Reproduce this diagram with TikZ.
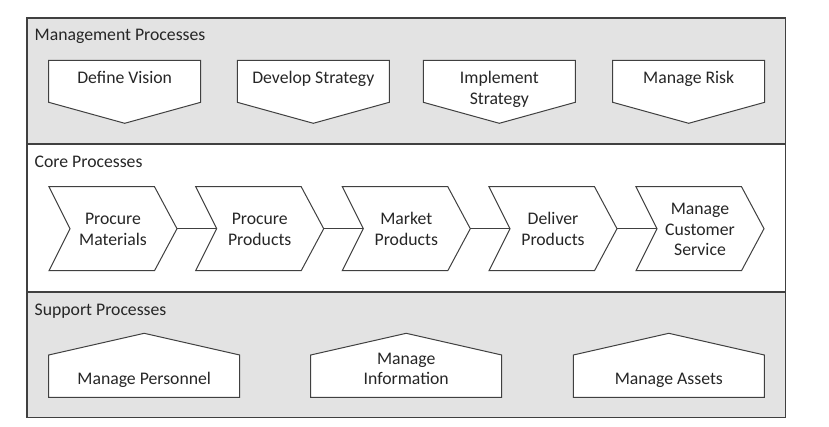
\documentclass[tikz,border=0pt]{standalone}
\usepackage{fontspec}
\setmainfont{Carlito}
\definecolor{bandgray}{HTML}{E3E3E3}
\definecolor{linegray}{HTML}{404040}
\definecolor{txtgray}{HTML}{262626}
\newcommand\lstrut{\rule[-6.5pt]{0pt}{20.5pt}}
\tikzset{
  band/.style={draw=linegray, line width=1.2pt},
  shapebox/.style={draw=linegray, fill=white, line width=1pt, line join=miter},
  lbl/.style={inner sep=0pt, text=txtgray, align=center, font=\fontsize{17.7}{20.5}\selectfont},
  bandlbl/.style={inner sep=0pt, text=txtgray, anchor=base west, font=\fontsize{17.7}{20.5}\selectfont},
  conn/.style={draw=linegray, line width=1pt}
}
\begin{document}
\begin{tikzpicture}[x=1pt,y=-1pt]
\useasboundingbox (0,0) rectangle (829,427);
% bands
\draw[band, fill=bandgray] (27,18) rectangle (785.7,144);
\draw[band, fill=white] (27,144) rectangle (785.7,292);
\draw[band, fill=bandgray] (27,292) rectangle (785.7,417.7);
\node[bandlbl] (mgmt) at (34.5,40.5) {Management Processes};
\node[bandlbl] (core) at (34.5,168) {Core Processes};
\node[bandlbl] (supp) at (34.5,315.5) {Support Processes};
% management shapes
\foreach \x/\n/\t in {48.7/m1/{Define Vision}, 237.3/m2/{Develop Strategy}, 423.3/m3/{Implement\\\lstrut Strategy}, 612.7/m4/{Manage Risk}}{
  \draw[shapebox] (\x,60.3) -- (\x+152,60.3) -- (\x+152,102.3) -- (\x+76,123.3) -- (\x,102.3) -- cycle;
  \node[lbl, anchor=north] (\n) at (\x+76,69.5) {\lstrut\t};
}
% core chevrons
\foreach \x/\n/\t in {49/c1/{Procure\\\lstrut Materials}, 195.7/c2/{Procure\\\lstrut Products}, 342.3/c3/{Market\\\lstrut Products}, 489/c4/{Deliver\\\lstrut Products}, 636/c5/{Manage\\\lstrut Customer\\\lstrut Service}}{
  \draw[shapebox] (\x,186.7) -- (\x+105.5,186.7) -- (\x+128,228.7) -- (\x+105.5,270.7) -- (\x,270.7) -- (\x+21,228.7) -- cycle;
  \coordinate (\n-in) at (\x+21,228.7);
  \coordinate (\n-out) at (\x+128,228.7);
  \node[lbl] (\n) at (\x+64,231.5) {\lstrut\t};
}
\draw[conn] (c1-out) -- (c2-in);
\draw[conn] (c2-out) -- (c3-in);
\draw[conn] (c3-out) -- (c4-in);
\draw[conn] (c4-out) -- (c5-in);
% support shapes
\foreach \x/\n/\t in {48.7/s1/{Manage Personnel}, 310.7/s2/{Manage\\\lstrut Information}, 573.3/s3/{Manage Assets}}{
  \draw[shapebox] (\x,397.3) -- (\x,355) -- (\x+95.5,333.3) -- (\x+191,355) -- (\x+191,397.3) -- cycle;
  \node[lbl, anchor=south] (\n) at (\x+95.5,391.5) {\lstrut\t};
}
\end{tikzpicture}
\end{document}
